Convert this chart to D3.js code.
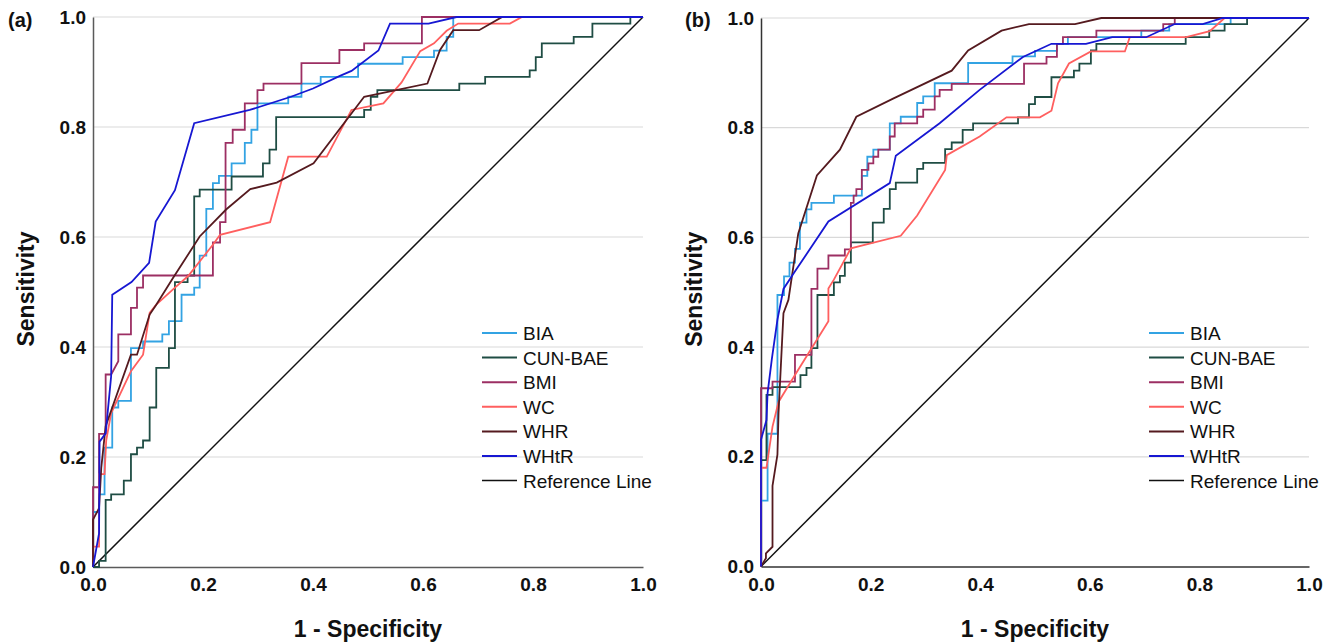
<!DOCTYPE html>
<html><head><meta charset="utf-8">
<script src="https://cdn.jsdelivr.net/npm/d3@7"></script>
<style>body{margin:0;background:#fff}svg{display:block}text{font-family:Arial,"Liberation Sans",sans-serif}</style>
</head><body>
<svg id="c" width="1336" height="642"></svg>
<script>
const seriesNames = ["BIA","CUN-BAE","BMI","WC","WHR","WHtR"];
const legendLabels = ["BIA","CUN-BAE","BMI","WC","WHR","WHtR","Reference Line"];
const tickValues = [0,0.2,0.4,0.6,0.8,1.0];
const panelLabels = ["(a)","(b)"];

// Panel (a) ROC points [1-specificity, sensitivity]
const a_BIA = [[0,0],[0,0.1],[0.011,0.1],[0.011,0.132],[0.021,0.132],[0.021,0.217],[0.035,0.217],[0.035,0.29],[0.046,0.29],[0.046,0.302],[0.069,0.302],[0.069,0.398],[0.091,0.398],[0.091,0.41],[0.126,0.41],[0.126,0.423],[0.138,0.423],[0.138,0.447],[0.161,0.447],[0.161,0.495],[0.184,0.495],[0.184,0.508],[0.194,0.508],[0.194,0.566],[0.206,0.566],[0.206,0.651],[0.218,0.651],[0.218,0.698],[0.229,0.698],[0.229,0.711],[0.252,0.711],[0.252,0.734],[0.276,0.734],[0.276,0.771],[0.288,0.771],[0.288,0.795],[0.299,0.795],[0.299,0.843],[0.355,0.843],[0.355,0.855],[0.379,0.855],[0.379,0.879],[0.414,0.879],[0.414,0.891],[0.482,0.891],[0.482,0.915],[0.563,0.915],[0.563,0.927],[0.620,0.927],[0.620,0.939],[0.643,0.939],[0.643,0.964],[0.655,0.964],[0.655,1],[1,1]];
const a_CUN = [[0,0],[0.011,0],[0.011,0.011],[0.023,0.011],[0.023,0.122],[0.033,0.122],[0.033,0.132],[0.056,0.132],[0.056,0.157],[0.069,0.157],[0.069,0.205],[0.080,0.205],[0.080,0.217],[0.091,0.217],[0.091,0.23],[0.103,0.23],[0.103,0.29],[0.115,0.29],[0.115,0.362],[0.138,0.362],[0.138,0.398],[0.149,0.398],[0.149,0.518],[0.172,0.518],[0.172,0.53],[0.184,0.53],[0.184,0.674],[0.194,0.674],[0.194,0.686],[0.252,0.686],[0.252,0.71],[0.309,0.71],[0.309,0.734],[0.321,0.734],[0.321,0.759],[0.333,0.759],[0.333,0.818],[0.493,0.818],[0.493,0.831],[0.505,0.831],[0.505,0.855],[0.517,0.855],[0.517,0.867],[0.666,0.867],[0.666,0.879],[0.713,0.879],[0.713,0.891],[0.794,0.891],[0.794,0.903],[0.805,0.903],[0.805,0.927],[0.816,0.927],[0.816,0.952],[0.874,0.952],[0.874,0.964],[0.908,0.964],[0.908,0.988],[0.977,0.988],[0.977,1],[1,1]];
const a_BMI = [[0,0],[0,0.145],[0.011,0.145],[0.011,0.242],[0.023,0.242],[0.023,0.35],[0.033,0.35],[0.046,0.374],[0.046,0.423],[0.069,0.423],[0.069,0.471],[0.080,0.471],[0.080,0.508],[0.091,0.508],[0.091,0.53],[0.218,0.53],[0.218,0.59],[0.231,0.59],[0.231,0.627],[0.241,0.627],[0.241,0.771],[0.254,0.771],[0.254,0.795],[0.276,0.795],[0.276,0.843],[0.299,0.843],[0.299,0.867],[0.31,0.867],[0.31,0.879],[0.379,0.879],[0.379,0.916],[0.448,0.916],[0.448,0.94],[0.493,0.94],[0.493,0.952],[0.598,0.952],[0.598,1],[1,1]];
const a_WC = [[0,0],[0,0.037],[0.011,0.037],[0.011,0.169],[0.021,0.169],[0.024,0.23],[0.033,0.28],[0.069,0.356],[0.091,0.386],[0.103,0.462],[0.115,0.477],[0.149,0.508],[0.173,0.529],[0.218,0.586],[0.231,0.604],[0.322,0.627],[0.355,0.746],[0.425,0.746],[0.470,0.831],[0.528,0.843],[0.561,0.881],[0.595,0.938],[0.620,0.952],[0.643,0.975],[0.664,0.988],[0.758,0.988],[0.780,1],[1,1]];
const a_WHR = [[0,0],[0,0.086],[0.011,0.107],[0.015,0.18],[0.023,0.256],[0.069,0.386],[0.080,0.386],[0.103,0.459],[0.115,0.477],[0.144,0.523],[0.194,0.601],[0.242,0.65],[0.286,0.687],[0.334,0.699],[0.401,0.734],[0.493,0.855],[0.608,0.879],[0.631,0.94],[0.655,0.976],[0.702,0.976],[0.744,1],[1,1]];
const a_WHtR = [[0,0],[0.011,0.061],[0.012,0.228],[0.023,0.243],[0.033,0.347],[0.035,0.495],[0.07,0.518],[0.102,0.553],[0.114,0.628],[0.149,0.685],[0.184,0.807],[0.285,0.831],[0.36,0.855],[0.40,0.87],[0.449,0.893],[0.47,0.902],[0.519,0.939],[0.540,0.988],[0.610,0.988],[0.661,1.0],[1,1]];

// Panel (b)
const b_BIA = [[0,0],[0,0.12],[0.012,0.12],[0.012,0.242],[0.030,0.242],[0.030,0.495],[0.042,0.495],[0.042,0.529],[0.052,0.529],[0.052,0.554],[0.062,0.554],[0.062,0.579],[0.071,0.579],[0.071,0.627],[0.083,0.627],[0.083,0.651],[0.092,0.651],[0.092,0.663],[0.133,0.663],[0.133,0.676],[0.184,0.676],[0.184,0.712],[0.194,0.712],[0.194,0.747],[0.205,0.747],[0.205,0.76],[0.235,0.76],[0.235,0.808],[0.255,0.808],[0.255,0.82],[0.285,0.82],[0.285,0.845],[0.296,0.845],[0.296,0.857],[0.317,0.857],[0.317,0.881],[0.378,0.881],[0.378,0.918],[0.459,0.918],[0.459,0.93],[0.5,0.93],[0.5,0.94],[0.540,0.94],[0.540,0.953],[0.56,0.953],[0.56,0.965],[0.694,0.965],[0.694,0.977],[0.745,0.977],[0.745,0.989],[0.857,0.989],[0.857,1],[1,1]];
const b_CUN = [[0,0],[0,0.194],[0.010,0.194],[0.010,0.313],[0.021,0.313],[0.021,0.327],[0.072,0.327],[0.072,0.349],[0.083,0.349],[0.083,0.362],[0.092,0.362],[0.092,0.398],[0.103,0.398],[0.103,0.495],[0.133,0.495],[0.133,0.518],[0.144,0.518],[0.144,0.53],[0.153,0.53],[0.153,0.554],[0.164,0.554],[0.164,0.591],[0.204,0.591],[0.204,0.627],[0.224,0.627],[0.224,0.652],[0.235,0.652],[0.235,0.688],[0.246,0.688],[0.246,0.70],[0.285,0.70],[0.285,0.725],[0.296,0.725],[0.296,0.736],[0.336,0.736],[0.336,0.761],[0.348,0.761],[0.348,0.773],[0.368,0.773],[0.368,0.796],[0.387,0.796],[0.387,0.808],[0.469,0.808],[0.469,0.819],[0.489,0.819],[0.489,0.843],[0.5,0.843],[0.5,0.856],[0.530,0.856],[0.530,0.892],[0.571,0.892],[0.571,0.904],[0.581,0.904],[0.581,0.917],[0.602,0.917],[0.602,0.941],[0.612,0.941],[0.612,0.953],[0.775,0.953],[0.775,0.965],[0.818,0.965],[0.818,0.977],[0.846,0.977],[0.846,0.989],[0.887,0.989],[0.887,1],[1,1]];
const b_BMI = [[0,0],[0,0.325],[0.021,0.325],[0.021,0.337],[0.062,0.337],[0.062,0.386],[0.092,0.386],[0.092,0.506],[0.103,0.506],[0.103,0.543],[0.123,0.543],[0.123,0.567],[0.153,0.567],[0.153,0.578],[0.164,0.578],[0.164,0.663],[0.169,0.663],[0.169,0.676],[0.174,0.676],[0.174,0.688],[0.184,0.688],[0.184,0.723],[0.196,0.723],[0.196,0.735],[0.205,0.735],[0.205,0.747],[0.214,0.747],[0.214,0.76],[0.235,0.76],[0.235,0.784],[0.244,0.784],[0.244,0.808],[0.285,0.808],[0.285,0.82],[0.296,0.82],[0.296,0.833],[0.317,0.833],[0.317,0.857],[0.326,0.857],[0.326,0.869],[0.348,0.869],[0.348,0.88],[0.480,0.88],[0.480,0.917],[0.521,0.917],[0.521,0.929],[0.540,0.929],[0.540,0.953],[0.551,0.953],[0.551,0.965],[0.612,0.965],[0.612,0.977],[0.734,0.977],[0.734,0.989],[0.755,0.989],[0.755,1],[1,1]];
const b_WC = [[0,0],[0,0.18],[0.010,0.18],[0.021,0.255],[0.032,0.30],[0.062,0.349],[0.123,0.447],[0.123,0.507],[0.133,0.523],[0.164,0.58],[0.255,0.603],[0.285,0.64],[0.336,0.723],[0.339,0.75],[0.399,0.784],[0.448,0.819],[0.509,0.819],[0.530,0.831],[0.542,0.881],[0.562,0.917],[0.602,0.939],[0.664,0.939],[0.673,0.965],[0.776,0.965],[0.819,0.976],[0.846,1],[1,1]];
const b_WHR = [[0,0],[0.009,0.015],[0.009,0.024],[0.021,0.036],[0.021,0.147],[0.030,0.204],[0.032,0.28],[0.041,0.462],[0.05,0.486],[0.068,0.607],[0.102,0.713],[0.144,0.760],[0.174,0.82],[0.241,0.853],[0.348,0.904],[0.378,0.941],[0.439,0.977],[0.489,0.989],[0.573,0.989],[0.621,1],[1,1]];
const b_WHtR = [[0,0],[0,0.231],[0.01,0.267],[0.012,0.316],[0.02,0.38],[0.03,0.45],[0.041,0.506],[0.06,0.535],[0.123,0.629],[0.235,0.699],[0.246,0.749],[0.326,0.808],[0.399,0.869],[0.478,0.929],[0.530,0.953],[0.593,0.953],[0.641,0.965],[0.703,0.965],[0.755,0.989],[0.806,0.989],[0.843,1],[1,1]];

const refLine = [[0,0],[1,1]];

const colors = {"BIA":"#33a3e3","CUN-BAE":"#1f4d44","BMI":"#9c2f63","WC":"#ff5f5f","WHR":"#551a1f","WHtR":"#1717d2","Reference Line":"#111111"};

const panels = [
  {label:panelLabels[0], x0:93, x1:643, y0:567, y1:17, data:[a_BIA,a_CUN,a_BMI,a_WC,a_WHR,a_WHtR], axisColor:"#5a5a5a", labX:8, legX:482},
  {label:panelLabels[1], x0:761, x1:1309, y0:566.5, y1:18, data:[b_BIA,b_CUN,b_BMI,b_WC,b_WHR,b_WHtR], axisColor:"#333", labX:685, legX:1149}
];

const svg = d3.select("#c");

panels.forEach(p => {
  const g = svg.append("g");
  const x = d3.scaleLinear().domain([0,1]).range([p.x0,p.x1]);
  const y = d3.scaleLinear().domain([0,1]).range([p.y0,p.y1]);

  // gridlines
  g.selectAll("line.grid").data(tickValues.filter(t=>t>0)).enter().append("line")
    .attr("x1",p.x0).attr("x2",p.x1).attr("y1",d=>y(d)).attr("y2",d=>y(d))
    .attr("stroke","#d9d9d9").attr("stroke-width",1.2);

  // axes
  const yAxis = d3.axisLeft(y).tickValues(tickValues).tickFormat(d3.format(".1f")).tickSize(0).tickPadding(7);
  const ya = g.append("g").attr("transform",`translate(${p.x0},0)`).call(yAxis);
  ya.select(".domain").attr("stroke",p.axisColor).attr("stroke-width",1.5);
  ya.selectAll("text").attr("font-size",19).attr("font-weight","bold").attr("fill","#111");

  const xAxis = d3.axisBottom(x).tickValues(tickValues).tickFormat(d3.format(".1f")).tickSize(0).tickPadding(11);
  const xa = g.append("g").attr("transform",`translate(0,${p.y0})`).call(xAxis);
  xa.select(".domain").attr("stroke",p.axisColor).attr("stroke-width",1.5);
  xa.selectAll("text").attr("font-size",19).attr("font-weight","bold").attr("fill","#111");

  // reference line
  const line = d3.line().x(d=>x(d[0])).y(d=>y(d[1]));
  g.append("path").attr("d",line(refLine)).attr("fill","none").attr("stroke",colors["Reference Line"]).attr("stroke-width",1.5);

  p.data.forEach((s,i) => {
    g.append("path").attr("d",line(s)).attr("fill","none")
      .attr("stroke",colors[seriesNames[i]]).attr("stroke-width",1.8).attr("stroke-linejoin","miter");
  });

  // titles
  g.append("text").attr("x",(p.x0+p.x1)/2).attr("y",637).attr("text-anchor","middle")
    .attr("font-size",23).attr("font-weight","bold").attr("fill","#111").text("1 - Specificity");
  g.append("text").attr("transform",`translate(${p.x0-59.5},${(p.y0+p.y1)/2 - 3}) rotate(-90)`).attr("text-anchor","middle")
    .attr("font-size",23).attr("font-weight","bold").attr("fill","#111").text("Sensitivity");
  g.append("text").attr("x",p.labX).attr("y",27).attr("font-size",20).attr("font-weight","bold").attr("fill","#111").text(p.label);

  // legend
  const leg = g.append("g");
  legendLabels.forEach((name,i) => {
    const yy = 333 + i*24.6;
    leg.append("line").attr("x1",p.legX).attr("x2",p.legX+35).attr("y1",yy).attr("y2",yy)
      .attr("stroke",colors[name]).attr("stroke-width",name==="Reference Line"?1.5:2);
    leg.append("text").attr("x",p.legX+41).attr("y",yy+7).attr("font-size",19).attr("fill","#111").text(name);
  });
});
</script>
</body></html>
